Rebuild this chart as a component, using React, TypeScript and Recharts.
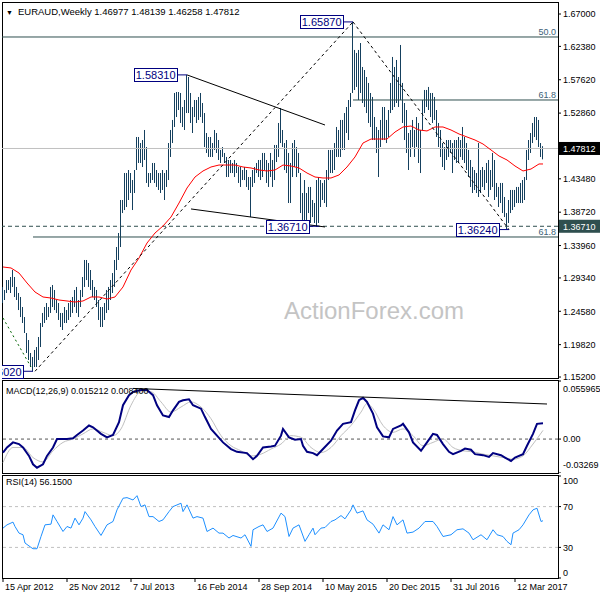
import { ComposedChart, Bar, Line, XAxis, YAxis, ReferenceLine } from 'recharts'

const FONT = '"Liberation Sans", Arial, sans-serif'
const BAR_COLOR = '#15405e'
const SLATE = '#2f4f4f'

// weekly bars, index 0 = 15 Apr 2012
const barHigh = [
	1.2805, 1.2762, 1.2904, 1.2904, 1.2947, 1.3047, 1.2947, 1.2805, 1.2719, 1.2662,
	1.2519, 1.2376, 1.2148, 1.2048, 1.1863, 1.1806, 1.1906, 1.1948, 1.2091, 1.2291,
	1.2434, 1.2519, 1.2576, 1.2519, 1.2805, 1.2833, 1.2762, 1.2619, 1.2576, 1.2434,
	1.2434, 1.2519, 1.2476, 1.2576, 1.2619, 1.2662, 1.2762, 1.2805, 1.2619, 1.2762,
	1.2947, 1.319, 1.319, 1.3147, 1.3047, 1.2904, 1.2805, 1.2762, 1.2619, 1.2519,
	1.2519, 1.2576, 1.2762, 1.2805, 1.2904, 1.3004, 1.319, 1.3375, 1.3575, 1.4046,
	1.4046, 1.4431, 1.4431, 1.4474, 1.4431, 1.4331, 1.4474, 1.4945, 1.4945, 1.4859,
	1.4902, 1.5045, 1.4802, 1.4431, 1.4431, 1.4574, 1.4574, 1.4474, 1.4431, 1.4431,
	1.4474, 1.4431, 1.4474, 1.4859, 1.5045, 1.5188, 1.5573, 1.5587, 1.5587, 1.5573,
	1.5373, 1.5473, 1.5831, 1.5801, 1.5573, 1.5373, 1.5473, 1.5473, 1.5516, 1.5573,
	1.543, 1.5287, 1.5002, 1.4945, 1.4945, 1.4859, 1.5045, 1.5002, 1.4902, 1.476,
	1.4802, 1.4717, 1.466, 1.4617, 1.4617, 1.4574, 1.4617, 1.4574, 1.4517, 1.4517,
	1.4474, 1.4517, 1.4474, 1.4374, 1.4374, 1.4474, 1.4517, 1.4574, 1.4617, 1.4617,
	1.4717, 1.4717, 1.4617, 1.4574, 1.4717, 1.4617, 1.4831, 1.4831, 1.5145, 1.5359,
	1.5045, 1.4859, 1.4902, 1.4717, 1.4574, 1.4859, 1.4902, 1.4802, 1.4717, 1.4431,
	1.4146, 1.4331, 1.4146, 1.4232, 1.4232, 1.4046, 1.4003, 1.4331, 1.4374, 1.4331,
	1.4289, 1.4331, 1.4474, 1.476, 1.476, 1.476, 1.4859, 1.5088, 1.5045, 1.5188,
	1.5188, 1.5287, 1.5373, 1.5473, 1.5573, 1.6587, 1.6187, 1.6144, 1.6187, 1.6286,
	1.5944, 1.5901, 1.5801, 1.5716, 1.5573, 1.5516, 1.523, 1.5088, 1.5045, 1.5188,
	1.5373, 1.5373, 1.5188, 1.533, 1.5716, 1.6087, 1.5944, 1.6044, 1.5801, 1.6258,
	1.5716, 1.543, 1.533, 1.5002, 1.5045, 1.5188, 1.5045, 1.523, 1.5145, 1.5045,
	1.5473, 1.5616, 1.5616, 1.5659, 1.5573, 1.5573, 1.5516, 1.533, 1.5145, 1.5045,
	1.4859, 1.4802, 1.4902, 1.4902, 1.4902, 1.4859, 1.4902, 1.4902, 1.4945, 1.4902,
	1.5088, 1.4945, 1.4859, 1.476, 1.4617, 1.4517, 1.4474, 1.4431, 1.4859, 1.4474,
	1.4517, 1.4474, 1.4574, 1.4617, 1.4474, 1.4717, 1.4617, 1.4289, 1.4232, 1.4289,
	1.4289, 1.4089, 1.386, 1.4046, 1.4189, 1.4189, 1.4189, 1.4232, 1.4232, 1.4289,
	1.4331, 1.4374, 1.476, 1.4902, 1.5002, 1.5145, 1.523, 1.523, 1.5188, 1.4859,
	1.4814,
]

const barLow = [
	1.2576, 1.2619, 1.2719, 1.2762, 1.2719, 1.2805, 1.2662, 1.2619, 1.2476, 1.2376,
	1.2291, 1.2148, 1.1863, 1.1763, 1.1663, 1.1602, 1.1663, 1.1663, 1.1763, 1.1948,
	1.2234, 1.2291, 1.2334, 1.2376, 1.2434, 1.2519, 1.2476, 1.2434, 1.2334, 1.2234,
	1.2191, 1.2291, 1.2291, 1.2334, 1.2376, 1.2434, 1.2519, 1.2434, 1.2376, 1.2519,
	1.2662, 1.2805, 1.2904, 1.2805, 1.2762, 1.2662, 1.2619, 1.2519, 1.2334, 1.2234,
	1.2234, 1.2334, 1.2434, 1.2476, 1.2619, 1.2719, 1.2805, 1.3047, 1.319, 1.3375,
	1.386, 1.3903, 1.3946, 1.4046, 1.4146, 1.3903, 1.4146, 1.4474, 1.4574, 1.4574,
	1.4517, 1.4617, 1.4289, 1.4232, 1.4289, 1.4331, 1.4289, 1.4232, 1.4189, 1.4146,
	1.4189, 1.4046, 1.4232, 1.4331, 1.466, 1.4859, 1.5088, 1.523, 1.533, 1.5145,
	1.5088, 1.5045, 1.5287, 1.5287, 1.5145, 1.5002, 1.523, 1.5145, 1.5188, 1.523,
	1.5145, 1.4802, 1.4717, 1.466, 1.466, 1.466, 1.476, 1.4717, 1.4617, 1.4574,
	1.466, 1.4574, 1.4374, 1.4374, 1.4431, 1.4431, 1.4374, 1.4431, 1.4289, 1.4232,
	1.4331, 1.4331, 1.4232, 1.4189, 1.3803, 1.4232, 1.4289, 1.4431, 1.4374, 1.4331,
	1.4374, 1.4474, 1.4289, 1.4232, 1.4374, 1.4232, 1.4331, 1.4588, 1.466, 1.4859,
	1.4802, 1.4474, 1.4431, 1.4003, 1.4003, 1.4374, 1.4517, 1.4374, 1.4431, 1.386,
	1.3761, 1.3761, 1.3761, 1.386, 1.3718, 1.3803, 1.3718, 1.3671, 1.3718, 1.3946,
	1.4046, 1.4003, 1.3946, 1.4331, 1.4431, 1.4431, 1.4474, 1.466, 1.466, 1.466,
	1.476, 1.476, 1.5002, 1.4902, 1.5373, 1.5573, 1.5616, 1.5659, 1.5473, 1.5573,
	1.543, 1.5373, 1.5287, 1.5145, 1.5088, 1.4902, 1.4902, 1.4717, 1.4374, 1.4802,
	1.4902, 1.4902, 1.4859, 1.4945, 1.5287, 1.533, 1.5373, 1.543, 1.5373, 1.5473,
	1.5145, 1.4902, 1.4717, 1.4474, 1.466, 1.4802, 1.466, 1.4802, 1.4574, 1.4431,
	1.5045, 1.5287, 1.5373, 1.533, 1.523, 1.5145, 1.5188, 1.4945, 1.4802, 1.466,
	1.4517, 1.4474, 1.4617, 1.466, 1.4717, 1.4431, 1.4617, 1.4574, 1.4574, 1.466,
	1.4617, 1.4574, 1.4474, 1.4374, 1.4232, 1.4146, 1.4189, 1.4146, 1.4089, 1.4146,
	1.4232, 1.4189, 1.4289, 1.4089, 1.4189, 1.4232, 1.4046, 1.4089, 1.3946, 1.4003,
	1.386, 1.3803, 1.3624, 1.3718, 1.386, 1.3903, 1.3946, 1.4003, 1.4003, 1.4003,
	1.4003, 1.4046, 1.4331, 1.4617, 1.4717, 1.4859, 1.4945, 1.4902, 1.4802, 1.466,
	1.4626,
]

// red moving average, read every 4 bars
const maIdx = [
	0, 4, 8, 12, 16, 20, 24, 28, 32, 36, 40, 44, 48, 52, 56, 60, 64, 68, 72, 76, 80, 84, 88, 92, 96, 100,
	104, 108, 112, 116, 120, 124, 128, 132, 136, 140, 144, 148, 152, 156, 160, 164, 168, 172, 176, 180,
	184, 188, 192, 196, 200, 204, 208, 212, 216, 220, 224, 228, 232, 236, 240, 244, 248, 252, 256, 260,
	264, 268, 270,
]
const maVal = [
	1.309, 1.3076, 1.3004, 1.2862, 1.2733, 1.2662, 1.2647, 1.2619, 1.2605, 1.259, 1.2605, 1.2662, 1.2662,
	1.2633, 1.2662, 1.2805, 1.3047, 1.3218, 1.3432, 1.3575, 1.3675, 1.3803, 1.4003, 1.4217, 1.4374, 1.446,
	1.4517, 1.4545, 1.4545, 1.4545, 1.4517, 1.4503, 1.4474, 1.446, 1.4474, 1.4545, 1.4531, 1.4503, 1.4431,
	1.4374, 1.436, 1.436, 1.4403, 1.4517, 1.466, 1.4859, 1.4916, 1.4916, 1.4916, 1.5016, 1.5088, 1.5102,
	1.5045, 1.5031, 1.5088, 1.5088, 1.5045, 1.4988, 1.4945, 1.4902, 1.4845, 1.476, 1.4674, 1.4617, 1.4531,
	1.446, 1.4488, 1.456, 1.456,
]

const macdIdx = [
	0, 2, 5, 8, 10, 13, 15, 17, 20, 22, 25, 27, 30, 32, 35, 37, 40, 43, 45, 49, 52, 55, 58, 60, 63, 65, 69,
	72, 75, 77, 80, 83, 85, 88, 90, 93, 95, 99, 101, 104, 107, 110, 114, 117, 122, 125, 127, 130, 134, 136,
	139, 140, 143, 146, 149, 150, 152, 155, 157, 160, 164, 167, 170, 174, 176, 178, 180, 182, 185, 187, 190,
	193, 195, 199, 200, 203, 205, 209, 212, 215, 217, 220, 223, 225, 229, 231, 234, 236, 240, 243, 245, 249,
	251, 254, 256, 260, 262, 265, 267, 270,
]
const macdVal = [
	-0.013, -0.0081, -0.0032, -0.0048, -0.0081, -0.0162, -0.0243, -0.0276, -0.0243, -0.0162, -0.0081, 0.0001,
	0.0001, 0.0001, 0.0007, 0.004, 0.0082, 0.0131, 0.0114, 0.005, 0.0017, 0.004, 0.0163, 0.0326, 0.0423,
	0.0455, 0.0472, 0.0472, 0.0423, 0.0326, 0.0228, 0.0212, 0.0277, 0.0358, 0.0374, 0.0384, 0.0326, 0.0293,
	0.0212, 0.0098, 0.0033, -0.0032, -0.0096, -0.0123, -0.0135, -0.0194, -0.0162, -0.0081, -0.0071, -0.0064,
	0.0033, 0.0098, 0.0017, -0.0006, 0.0001, -0.0064, -0.0123, -0.0135, -0.0155, -0.0096, -0.0016, 0.0082,
	0.0147, 0.0163, 0.0277, 0.0374, 0.0397, 0.0358, 0.0245, 0.0114, 0.0026, 0.0017, 0.0098, 0.0131, 0.0147,
	0.0065, -0.0032, -0.0113, -0.0032, 0.005, 0.004, -0.0048, -0.0123, -0.0145, -0.0113, -0.0091, -0.0103,
	-0.0145, -0.0155, -0.0172, -0.0135, -0.0155, -0.0178, -0.0211, -0.0178, -0.0145, -0.0064, 0.005, 0.0147,
	0.0152,
]

const signalIdx = [
	0, 5, 10, 15, 20, 25, 30, 35, 40, 45, 50, 55, 59, 64, 69, 74, 79, 84, 89, 94, 99, 104, 109, 114, 119, 124,
	129, 134, 139, 144, 149, 154, 159, 164, 169, 174, 179, 182, 185, 190, 195, 200, 205, 210, 215, 220, 225,
	230, 235, 240, 245, 250, 255, 260, 265, 270,
]
const signalVal = [
	-0.0227, -0.0081, -0.0081, -0.0178, -0.022, -0.0113, -0.0032, 0.0001, 0.005, 0.0098, 0.0065, 0.0033,
	0.0098, 0.0326, 0.0455, 0.0455, 0.0358, 0.026, 0.0309, 0.0358, 0.0309, 0.0196, 0.0033, -0.0064, -0.0113,
	-0.0162, -0.0145, -0.0096, -0.0048, 0.0033, 0.0017, -0.0081, -0.013, -0.0081, 0.0033, 0.0131, 0.026,
	0.0342, 0.0293, 0.0131, 0.0065, 0.0098, 0.0033, -0.0064, -0.0032, 0.0001, -0.0081, -0.0113, -0.0123,
	-0.0145, -0.0162, -0.0178, -0.0194, -0.0162, -0.0048, 0.0084,
]

const rsiIdx = [
	0, 2, 5, 6, 8, 10, 11, 14, 15, 17, 19, 21, 24, 25, 27, 30, 32, 34, 36, 38, 40, 41, 44, 46, 49, 52, 55, 57,
	60, 62, 65, 67, 69, 71, 73, 75, 78, 80, 83, 85, 89, 90, 92, 95, 97, 100, 102, 105, 108, 110, 113, 115,
	119, 121, 124, 125, 128, 130, 132, 135, 139, 141, 143, 145, 148, 151, 153, 155, 156, 159, 161, 164, 166,
	169, 171, 174, 175, 177, 180, 182, 185, 188, 190, 193, 195, 197, 200, 202, 205, 208, 211, 215, 217, 220,
	224, 227, 230, 233, 235, 239, 242, 245, 247, 250, 252, 254, 255, 258, 260, 263, 265, 267, 269, 270,
]
const rsiVal = [
	48.9, 52.1, 54.8, 50.5, 44.0, 42.4, 34.3, 30.0, 28.7, 28.7, 40.7, 52.1, 52.8, 61.9, 55.4, 45.6, 50.5, 48.9,
	58.7, 52.1, 58.7, 65.1, 57.0, 50.5, 41.7, 52.1, 55.4, 66.8, 78.2, 78.8, 76.5, 80.7, 70.0, 71.7, 60.2, 60.2,
	55.4, 57.0, 65.1, 70.0, 73.3, 65.1, 71.7, 58.7, 60.2, 58.7, 45.6, 48.9, 44.0, 44.0, 39.2, 41.7, 39.2, 42.4,
	31.0, 47.3, 50.5, 52.1, 45.6, 48.9, 63.6, 60.2, 40.7, 48.9, 52.1, 35.9, 42.4, 48.9, 42.4, 48.9, 49.5, 55.4,
	57.0, 61.2, 58.0, 66.8, 71.7, 63.6, 65.8, 57.0, 52.8, 44.0, 52.1, 47.3, 60.2, 52.1, 57.0, 44.0, 45.0, 48.9,
	55.4, 55.4, 50.5, 40.7, 42.4, 47.3, 48.2, 44.0, 37.5, 42.4, 37.5, 47.3, 42.4, 40.7, 35.9, 32.6, 44.0, 47.3,
	52.1, 61.9, 66.8, 68.4, 55.4, 56.15,
]

const dateTicks = [0, 32, 64, 96, 128, 160, 192, 224, 256]
const dateLabels = [
	'15 Apr 2012', '25 Nov 2012', '7 Jul 2013', '16 Feb 2014', '28 Sep 2014',
	'10 May 2015', '20 Dec 2015', '31 Jul 2016', '12 Mar 2017',
]
const priceTicks = [1.152, 1.1982, 1.2458, 1.2934, 1.3396, 1.3671, 1.3872, 1.4348, 1.47812, 1.5286, 1.5762, 1.6238, 1.67]
const macdTicks = [0.055965, 0, -0.03269]
const rsiTicks = [100, 70, 30, 0]

const lastClose = 1.47812
const supportLevel = 1.3671

// fibonacci levels: price, first bar, text
const fibPrice = [1.6372, 1.5473, 1.3518]
const fibFrom = [-0.5, 175, 15]
const fibText = ['50.0', '61.8', '61.8']

// swing tags: text, bar, price
const tagText = ['1.58310', '1.65870', '1.36710', '1.36240', '1.16020']
const tagBar = [92, 175, 158, 253, 15]
const tagPrice = [1.5831, 1.6587, 1.3671, 1.3624, 1.1602]

// trend lines: [bar, price] pairs
const solidTrends = [
	[[92, 1.5831], [161, 1.5116]],
	[[94, 1.3918], [161, 1.3661]],
]
const dashedTrends = [
	[[16, 1.1602], [175, 1.6587]],
	[[175, 1.6587], [253, 1.3624]],
]
const dottedTrend = [[0, 1.2362], [14, 1.1663]]
const macdTrend = [[65, 0.0488], [272, 0.0338]]

const X_DOMAIN = [-0.5, 277.5]

const mainData = barHigh.map((hi, i) => ({ i, hi, lo: barLow[i], ma: null as number | null }))
maIdx.forEach((i, k) => {
	mainData[i].ma = maVal[k]
})

const macdMap = new Map<number, { i: number; macd: number | null; signal: number | null }>()
const macdRow = (i: number) => {
	if (!macdMap.has(i)) macdMap.set(i, { i, macd: null, signal: null })
	return macdMap.get(i)!
}
macdIdx.forEach((i, k) => (macdRow(i).macd = macdVal[k]))
signalIdx.forEach((i, k) => (macdRow(i).signal = signalVal[k]))
const macdData = [...macdMap.values()].sort((a, b) => a.i - b.i)

const rsiData = rsiIdx.map((i, k) => ({ i, rsi: rsiVal[k] }))

const HlBar = (props: any) => {
	const { x, y, width, height } = props
	if (x == null || y == null) return null
	const cx = Math.round(x + width / 2 - 0.5)
	const top = height < 0 ? y + height : y
	return <rect x={cx} y={top} width={1} height={Math.max(1, Math.abs(height))} fill={BAR_COLOR} />
}

const priceTag = (text: string) => (props: any) => {
	const vb = props.viewBox || {}
	const w = 43
	const h = 13
	const rx = Math.round(vb.x - w) + 0.5
	const ry = Math.round(vb.y - h / 2) + 0.5
	return (
		<g clipPath='url(#leftClip)'>
			<rect x={rx} y={ry} width={w} height={h} fill='#fff' stroke='#000080' />
			<text x={rx + w - 2} y={ry + h / 2} dy='0.36em' textAnchor='end' fontSize={11} fill='#000080' fontFamily={FONT}>
				{text}
			</text>
		</g>
	)
}

const PriceTick = (props: any) => {
	const { x, y, payload } = props
	const v = payload.value
	const label = v.toFixed(5)
	if (v === lastClose || v === supportLevel) {
		return (
			<g>
				<rect x={559} y={y - 6.5} width={41} height={13} fill={v === lastClose ? '#000' : SLATE} />
				<text x={x} y={y} dy='0.36em' fontSize={9} fill='#fff' fontFamily={FONT}>
					{label}
				</text>
			</g>
		)
	}
	return (
		<text x={x} y={y} dy='0.36em' fontSize={9} fill='#000' fontFamily={FONT}>
			{label}
		</text>
	)
}

const MacdTick = (props: any) => {
	const { x, y, payload } = props
	const v = payload.value
	const label = v === 0 ? '0.00' : String(v)
	const shift = v > 0 ? 8 : v < 0 ? -8 : 0
	return (
		<text x={x} y={y + shift} dy='0.36em' fontSize={9} fill='#000' fontFamily={FONT}>
			{label}
		</text>
	)
}

const RsiTick = (props: any) => {
	const { x, y, payload } = props
	const v = payload.value
	const shift = v === 100 ? 5 : v === 0 ? -5 : 0
	return (
		<text x={x} y={y + shift} dy='0.36em' fontSize={9} fill='#000' fontFamily={FONT}>
			{v}
		</text>
	)
}

const DateTick = (props: any) => {
	const { x, y, payload } = props
	return (
		<text x={x + 2} y={y} dy='0.71em' fontSize={9} fill='#000' textAnchor='start' fontFamily={FONT}>
			{dateLabels[dateTicks.indexOf(payload.value)]}
		</text>
	)
}

const frame = (top: number, height: number) => (
	<div
		style={{
			position: 'absolute',
			left: 2,
			top,
			width: 557,
			height,
			border: '1px solid #000',
			boxSizing: 'border-box',
		}}
	/>
)

const App = () => {
	return (
		<div style={{ position: 'absolute', left: 0, top: 0, width: 600, height: 600, background: '#fff', fontFamily: FONT }}>
			<div style={{ position: 'absolute', left: 284, top: 296, fontSize: 24, lineHeight: '30px', color: '#c4c4c4' }}>
				ActionForex.com
			</div>
			{frame(2, 377)}
			{frame(380, 94)}
			{frame(475, 104)}

			<div style={{ position: 'absolute', left: 0, top: 0 }}>
				<ComposedChart width={600} height={386} data={mainData} margin={{ top: 3, right: 0, bottom: 8, left: 2 }}>
					<defs>
						<clipPath id='leftClip'>
							<rect x={2} y={0} width={560} height={380} />
						</clipPath>
					</defs>
					<XAxis dataKey='i' type='number' domain={X_DOMAIN} allowDataOverflow hide />
					<YAxis
						orientation='right'
						width={42}
						domain={[1.1506, 1.6857]}
						allowDataOverflow
						ticks={priceTicks}
						interval={0}
						axisLine={false}
						tickLine={{ stroke: '#000' }}
						tickSize={3}
						tickMargin={2}
						tick={<PriceTick />}
					/>
					<ReferenceLine y={lastClose} stroke='#c0c0c0' ifOverflow='visible' />
					{fibPrice.map((p, k) => (
						<ReferenceLine
							key={`fib-${k}`}
							segment={[
								{ x: fibFrom[k], y: p },
								{ x: X_DOMAIN[1], y: p },
							]}
							stroke={SLATE}
							ifOverflow='visible'
							label={{ value: fibText[k], position: 'insideBottomRight', offset: 2, fill: '#3d5f78', fontSize: 9 }}
						/>
					))}
					<ReferenceLine y={supportLevel} stroke={SLATE} strokeDasharray='4 3' ifOverflow='visible' />
					<Bar dataKey={(d: any) => [d.lo, d.hi]} barSize={1} shape={<HlBar />} isAnimationActive={false} />
					<Line
						dataKey='ma'
						type='linear'
						stroke='#ff0000'
						strokeWidth={1}
						dot={false}
						connectNulls
						isAnimationActive={false}
					/>
					{solidTrends.map((t, k) => (
						<ReferenceLine
							key={`st-${k}`}
							segment={[
								{ x: t[0][0], y: t[0][1] },
								{ x: t[1][0], y: t[1][1] },
							]}
							stroke='#000'
							ifOverflow='visible'
						/>
					))}
					{dashedTrends.map((t, k) => (
						<ReferenceLine
							key={`dt-${k}`}
							segment={[
								{ x: t[0][0], y: t[0][1] },
								{ x: t[1][0], y: t[1][1] },
							]}
							stroke='#000'
							strokeDasharray='3 3'
							ifOverflow='visible'
						/>
					))}
					<ReferenceLine
						segment={[
							{ x: dottedTrend[0][0], y: dottedTrend[0][1] },
							{ x: dottedTrend[1][0], y: dottedTrend[1][1] },
						]}
						stroke='#006400'
						strokeDasharray='2 3'
						ifOverflow='visible'
					/>
					{tagText.map((t, k) => (
						<ReferenceLine
							key={`tag-${k}`}
							segment={[
								{ x: tagBar[k] - 5, y: tagPrice[k] },
								{ x: tagBar[k], y: tagPrice[k] },
							]}
							stroke='#000080'
							ifOverflow='visible'
							label={priceTag(t)}
						/>
					))}
				</ComposedChart>
			</div>

			<div style={{ position: 'absolute', left: 0, top: 380 }}>
				<ComposedChart width={600} height={93} data={macdData} margin={{ top: 1, right: 0, bottom: 0, left: 2 }}>
					<XAxis dataKey='i' type='number' domain={X_DOMAIN} allowDataOverflow hide />
					<YAxis
						orientation='right'
						width={42}
						domain={[-0.03269, 0.055965]}
						allowDataOverflow
						ticks={macdTicks}
						interval={0}
						axisLine={false}
						tickLine={{ stroke: '#000' }}
						tickSize={3}
						tickMargin={2}
						tick={<MacdTick />}
					/>
					<ReferenceLine y={0} stroke='#555' strokeDasharray='3 3' ifOverflow='visible' />
					<Line
						dataKey='signal'
						type='monotone'
						stroke='#c0c0c0'
						strokeWidth={1}
						dot={false}
						connectNulls
						isAnimationActive={false}
					/>
					<Line
						dataKey='macd'
						type='linear'
						stroke='#000080'
						strokeWidth={2}
						dot={false}
						connectNulls
						isAnimationActive={false}
					/>
					<ReferenceLine
						segment={[
							{ x: macdTrend[0][0], y: macdTrend[0][1] },
							{ x: macdTrend[1][0], y: macdTrend[1][1] },
						]}
						stroke='#000'
						ifOverflow='visible'
					/>
				</ComposedChart>
			</div>

			<div style={{ position: 'absolute', left: 0, top: 475 }}>
				<ComposedChart width={600} height={125} data={rsiData} margin={{ top: 1, right: 0, bottom: 0, left: 2 }}>
					<XAxis
						dataKey='i'
						type='number'
						domain={X_DOMAIN}
						allowDataOverflow
						ticks={dateTicks}
						interval={0}
						height={22}
						axisLine={false}
						tickLine={{ stroke: '#000' }}
						tickSize={4}
						tickMargin={2}
						tick={<DateTick />}
					/>
					<YAxis
						orientation='right'
						width={42}
						domain={[0, 100]}
						allowDataOverflow
						ticks={rsiTicks}
						interval={0}
						axisLine={false}
						tickLine={{ stroke: '#000' }}
						tickSize={3}
						tickMargin={2}
						tick={<RsiTick />}
					/>
					<ReferenceLine y={70} stroke='#c0c0c0' strokeDasharray='3 3' />
					<ReferenceLine y={30} stroke='#c0c0c0' strokeDasharray='3 3' />
					<Line
						dataKey='rsi'
						type='linear'
						stroke='#1e90ff'
						strokeWidth={1}
						dot={false}
						isAnimationActive={false}
					/>
				</ComposedChart>
			</div>

			<div style={{ position: 'absolute', left: 6, top: 5, fontSize: 9.5, lineHeight: '14px', color: '#000', whiteSpace: 'nowrap' }}>
				<span style={{ fontSize: 7, marginRight: 5 }}>▼</span>
				EURAUD,Weekly 1.46977 1.48139 1.46258 1.47812
			</div>
			<div style={{ position: 'absolute', left: 6, top: 384, fontSize: 9, lineHeight: '14px', color: '#000', whiteSpace: 'nowrap' }}>
				MACD(12,26,9) 0.015212 0.008400
			</div>
			<div style={{ position: 'absolute', left: 6, top: 475, fontSize: 9, lineHeight: '14px', color: '#000', whiteSpace: 'nowrap' }}>
				RSI(14) 56.1500
			</div>
		</div>
	)
}

export default App
